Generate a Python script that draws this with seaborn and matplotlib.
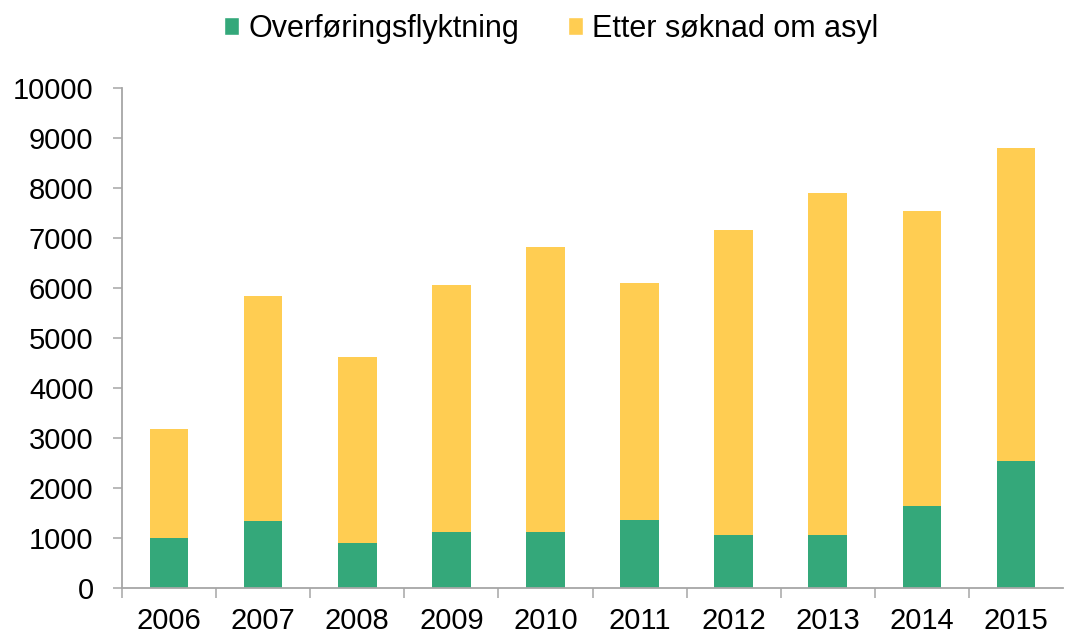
import numpy as np
import pandas as pd
import seaborn as sns
from matplotlib import pyplot as plt
from matplotlib.patches import Patch

years = ['2006', '2007', '2008', '2009', '2010', '2011', '2012', '2013', '2014', '2015']
overforing = [1010, 1340, 910, 1120, 1120, 1370, 1060, 1060, 1650, 2540]
asyl = [2180, 4500, 3710, 4940, 5710, 4740, 6110, 6840, 5890, 6260]
yticks = [0, 1000, 2000, 3000, 4000, 5000, 6000, 7000, 8000, 9000, 10000]

GREEN = '#34A87A'
YELLOW = '#FFCD52'
AXIS = '#A6A6A6'

sns.set_style('white')
plt.rcParams['font.family'] = ['Liberation Sans', 'DejaVu Sans']
plt.rcParams['text.color'] = 'black'

df = pd.DataFrame({'year': years, 'overforing': overforing, 'asyl': asyl})
df['total'] = df['overforing'] + df['asyl']

fig = plt.figure(figsize=(10.66, 6.41), dpi=100)
ax = fig.add_axes([122 / 1066, 53 / 641, 941 / 1066, 500 / 641])

# stacked: total in yellow first, green on top from zero
sns.barplot(data=df, x='year', y='total', color=YELLOW, width=0.41,
            saturation=1, ax=ax, edgecolor='none')
sns.barplot(data=df, x='year', y='overforing', color=GREEN, width=0.41,
            saturation=1, ax=ax, edgecolor='none')

ax.set_xlim(-0.5, 9.5)
ax.set_ylim(0, 10000)
ax.set_yticks(yticks)
ax.set_xlabel('')
ax.set_ylabel('')

for s in ['top', 'right']:
    ax.spines[s].set_visible(False)
for s in ['left', 'bottom']:
    ax.spines[s].set_color(AXIS)
    ax.spines[s].set_linewidth(1.3)

ax.tick_params(axis='y', which='major', direction='out', length=6.5, width=1.1,
               color=AXIS, pad=14, labelsize=21, labelcolor='black', left=True)
ax.tick_params(axis='x', which='major', length=0, pad=14, labelsize=21,
               labelcolor='black')
ax.set_xticks(np.arange(-0.5, 9, 1.0), minor=True)
ax.tick_params(axis='x', which='minor', direction='out', length=7.5, width=1.1,
               color=AXIS, bottom=True)

handles = [Patch(facecolor=GREEN, label='Overføringsflyktning'),
           Patch(facecolor=YELLOW, label='Etter søknad om asyl')]
fig.legend(handles=handles, loc='center', bbox_to_anchor=(551 / 1066, 1 - 29 / 641),
           ncol=2, frameon=False, fontsize=22, handlelength=0.5, handleheight=0.5,
           handletextpad=0.3, columnspacing=1.6, borderpad=0, labelcolor='black')

fig.savefig('out.png', dpi=100)
